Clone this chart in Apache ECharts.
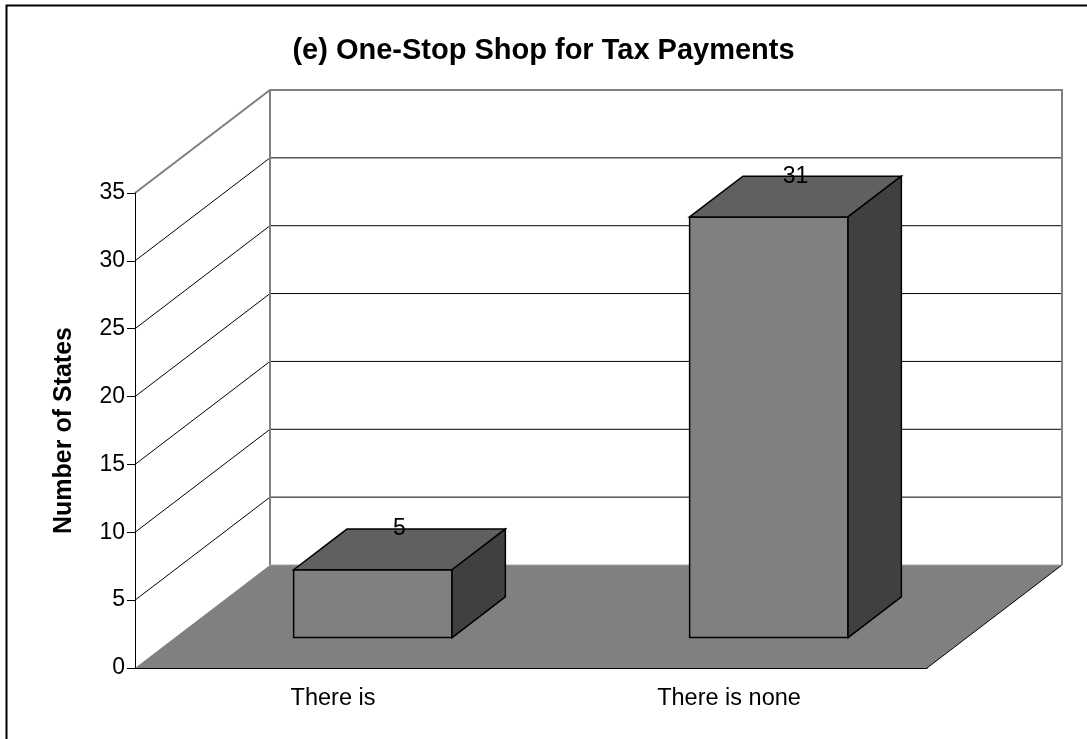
<!DOCTYPE html>
<html>
<head>
<meta charset="utf-8">
<script src="https://cdn.jsdelivr.net/npm/echarts@6/dist/echarts.min.js"></script>
<style>
  html, body { margin: 0; padding: 0; background: #fff; }
  #chart { width: 1087px; height: 739px; }
</style>
</head>
<body>
<div id="chart"></div>
<script>
const categories = ['There is', 'There is none']
const stateCounts = [5, 31]
const yTicks = [0, 5, 10, 15, 20, 25, 30, 35]

// oblique projection: offset from front plane to back wall, in pixels
const DEPTH = [135, -103]
const BAR_FRONT = 0.295
const BAR_BACK = 0.69
const FONT = '"Liberation Sans", Arial, sans-serif'

const renderWalls = (params, api) => {
  const cs = params.coordSys
  const x0 = cs.x
  const x1 = cs.x + cs.width
  const [dx, dy] = DEPTH
  const yOf = v => api.coord([0, v])[1]
  const y0 = yOf(yTicks[0])
  const yTop = yOf(yTicks[yTicks.length - 1])
  const children = []

  // floor
  children.push({
    type: 'polygon',
    shape: { points: [[x0, y0], [x0 + dx, y0 + dy], [x1 + dx, y0 + dy], [x1, y0]] },
    style: { fill: '#808080' }
  })
  children.push({
    type: 'line',
    shape: { x1: x1, y1: y0, x2: x1 + dx, y2: y0 + dy },
    style: { stroke: '#000', lineWidth: 1 }
  })

  // grid lines on back wall and side wall
  yTicks.slice(1, -1).forEach(v => {
    const y = yOf(v)
    children.push({
      type: 'line',
      shape: { x1: x0 + dx, y1: y + dy, x2: x1 + dx, y2: y + dy },
      style: { stroke: '#000', lineWidth: 1 }
    })
    children.push({
      type: 'line',
      shape: { x1: x0, y1: y, x2: x0 + dx, y2: y + dy },
      style: { stroke: '#000', lineWidth: 1 }
    })
  })

  // wall frame
  children.push({
    type: 'polyline',
    shape: { points: [[x0, yTop], [x0 + dx, yTop + dy], [x1 + dx, yTop + dy], [x1 + dx, y0 + dy]] },
    style: { stroke: '#808080', lineWidth: 2, fill: null }
  })
  children.push({
    type: 'line',
    shape: { x1: x0 + dx, y1: yTop + dy, x2: x0 + dx, y2: y0 + dy },
    style: { stroke: '#808080', lineWidth: 2 }
  })
  children.push({
    type: 'line',
    shape: { x1: x0 + dx, y1: y0 + dy, x2: x1 + dx, y2: y0 + dy },
    style: { stroke: '#a0a0a0', lineWidth: 1 }
  })

  return { type: 'group', children }
}

const renderBar = (params, api) => {
  const idx = api.value(0)
  const val = api.value(1)
  const base = api.coord([idx, 0])
  const top = api.coord([idx, val])
  const half = api.size([1, 0])[0] * 0.4 / 2
  const fx = DEPTH[0] * BAR_FRONT
  const fy = DEPTH[1] * BAR_FRONT
  const bx = DEPTH[0] * BAR_BACK
  const by = DEPTH[1] * BAR_BACK
  const l = base[0] - half
  const r = base[0] + half
  const yb = base[1]
  const yt = top[1]
  const edge = { stroke: '#000', lineWidth: 1.5, lineJoin: 'miter' }

  return {
    type: 'group',
    children: [
      {
        type: 'polygon',
        shape: { points: [[l + fx, yt + fy], [r + fx, yt + fy], [r + fx, yb + fy], [l + fx, yb + fy]] },
        style: Object.assign({ fill: '#808080' }, edge)
      },
      {
        type: 'polygon',
        shape: { points: [[l + fx, yt + fy], [l + bx, yt + by], [r + bx, yt + by], [r + fx, yt + fy]] },
        style: Object.assign({ fill: '#606060' }, edge)
      },
      {
        type: 'polygon',
        shape: { points: [[r + fx, yt + fy], [r + bx, yt + by], [r + bx, yb + by], [r + fx, yb + fy]] },
        style: Object.assign({ fill: '#404040' }, edge)
      },
      {
        type: 'text',
        x: base[0] + (fx + bx) / 2,
        y: yt + by,
        style: {
          text: String(val),
          fill: '#000',
          fontSize: 23,
          fontFamily: FONT,
          align: 'center',
          verticalAlign: 'middle'
        }
      }
    ]
  }
}

const chart = echarts.init(document.getElementById('chart'))

chart.setOption({
  backgroundColor: '#fff',
  animation: false,
  textStyle: { fontFamily: FONT },
  title: {
    text: '(e) One-Stop Shop for Tax Payments',
    left: 'center',
    top: 31,
    textStyle: { fontSize: 29, fontWeight: 'bold', color: '#000', fontFamily: FONT }
  },
  graphic: [{
    type: 'rect',
    shape: { x: 6.5, y: 5.5, width: 1200, height: 900 },
    style: { fill: 'none', stroke: '#000', lineWidth: 2 },
    silent: true
  }],
  grid: { left: 135, right: 160, top: 193, bottom: 71 },
  xAxis: {
    type: 'category',
    data: categories,
    z: 5,
    axisLine: { lineStyle: { color: '#000', width: 1 } },
    axisTick: { length: 8, lineStyle: { color: '#000' } },
    axisLabel: { color: '#000', fontSize: 23.5, margin: 19, fontFamily: FONT },
    splitLine: { show: false }
  },
  yAxis: {
    type: 'value',
    min: 0,
    max: 35,
    interval: 5,
    z: 5,
    name: 'Number of States',
    nameLocation: 'middle',
    nameGap: 58,
    nameTextStyle: { fontSize: 25, fontWeight: 'bold', color: '#000', fontFamily: FONT },
    axisLine: { show: true, lineStyle: { color: '#000', width: 1 } },
    axisTick: { show: true, length: 8, lineStyle: { color: '#000' } },
    axisLabel: { color: '#000', fontSize: 23, margin: 10, fontFamily: FONT },
    splitLine: { show: false }
  },
  series: [
    {
      type: 'custom',
      name: 'walls',
      z: 1,
      silent: true,
      renderItem: renderWalls,
      data: [[0, 0]]
    },
    {
      type: 'custom',
      name: 'Number of States',
      z: 3,
      renderItem: renderBar,
      data: stateCounts.map((v, i) => [i, v])
    }
  ]
})

window.addEventListener('resize', () => {
  chart.resize()
})
</script>
</body>
</html>
